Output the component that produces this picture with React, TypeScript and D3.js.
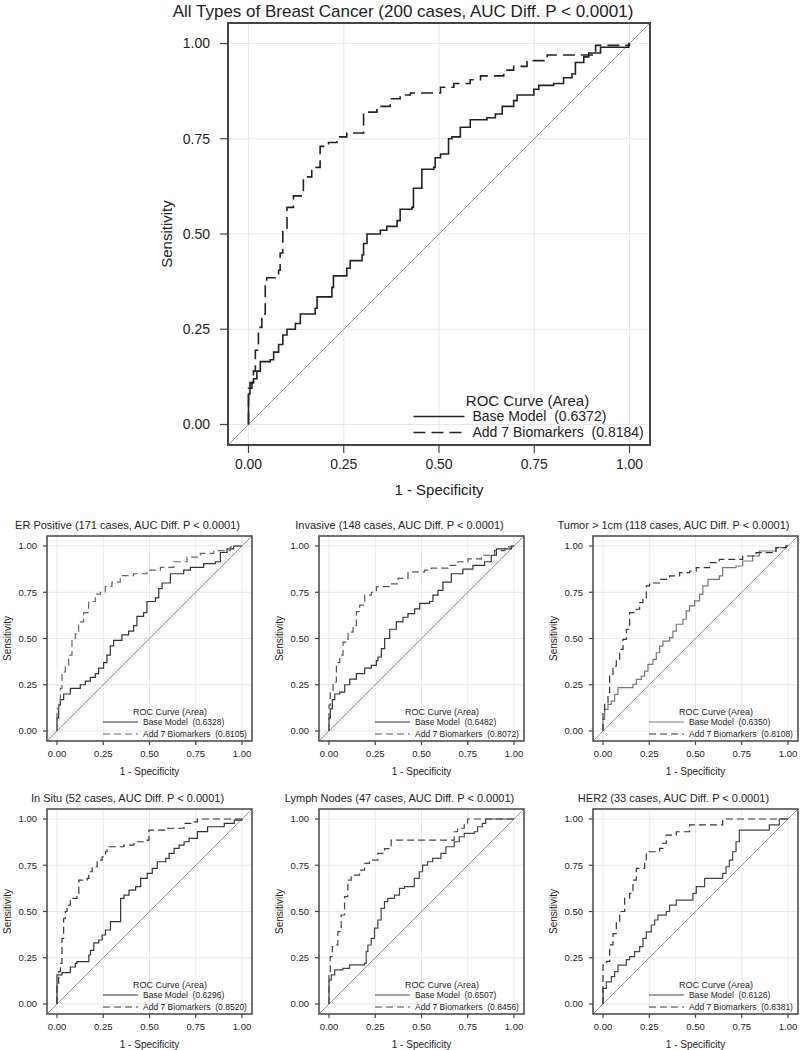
import React from 'react';
import * as d3 from 'd3';

type Pt = [number, number];

const tickValues = [0, 0.25, 0.5, 0.75, 1];
const tickLabels = ['0.00', '0.25', '0.50', '0.75', '1.00'];
const seriesNames = ['Base Model', 'Add 7 Biomarkers'];
const legendTitle = 'ROC Curve (Area)';
const xLabel = '1 - Specificity';
const yLabel = 'Sensitivity';

const mainTitle = 'All Types of Breast Cancer (200 cases, AUC Diff. P < 0.0001)';
const mainAuc = [0.6372, 0.8184];
const mainBase: Pt[] = [[0,0],[0,0.08],[0.004,0.11],[0.013,0.12],[0.022,0.14],[0.031,0.165],[0.057,0.17],[0.066,0.19],[0.079,0.21],[0.090,0.235],[0.101,0.25],[0.123,0.265],[0.136,0.29],[0.175,0.305],[0.180,0.335],[0.219,0.36],[0.223,0.39],[0.258,0.41],[0.267,0.43],[0.298,0.445],[0.302,0.475],[0.311,0.50],[0.346,0.51],[0.363,0.52],[0.390,0.535],[0.398,0.565],[0.429,0.57],[0.433,0.62],[0.455,0.67],[0.486,0.675],[0.490,0.70],[0.504,0.71],[0.525,0.75],[0.534,0.755],[0.556,0.78],[0.582,0.80],[0.626,0.805],[0.648,0.815],[0.666,0.835],[0.696,0.85],[0.705,0.865],[0.749,0.88],[0.762,0.89],[0.801,0.895],[0.827,0.91],[0.849,0.92],[0.858,0.95],[0.880,0.965],[0.893,0.975],[0.924,0.99],[0.998,1],[1,1]];
const mainAdd: Pt[] = [[0,0],[0,0.095],[0.009,0.11],[0.013,0.14],[0.018,0.195],[0.026,0.255],[0.035,0.29],[0.044,0.37],[0.048,0.385],[0.079,0.405],[0.083,0.45],[0.090,0.515],[0.101,0.57],[0.118,0.60],[0.144,0.65],[0.166,0.675],[0.188,0.73],[0.210,0.74],[0.232,0.755],[0.258,0.765],[0.302,0.82],[0.337,0.835],[0.372,0.855],[0.398,0.865],[0.425,0.87],[0.504,0.885],[0.539,0.895],[0.582,0.905],[0.609,0.915],[0.670,0.93],[0.696,0.94],[0.731,0.955],[0.784,0.97],[0.902,0.98],[0.911,0.995],[1,1]];

const panelTitles = [
  'ER Positive (171 cases, AUC Diff. P < 0.0001)',
  'Invasive (148 cases, AUC Diff. P < 0.0001)',
  'Tumor > 1cm (118 cases, AUC Diff. P < 0.0001)',
  'In Situ (52 cases, AUC Diff. P < 0.0001)',
  'Lymph Nodes (47 cases, AUC Diff. P < 0.0001)',
  'HER2 (33 cases, AUC Diff. P < 0.0001)',
];
const panelAucBase = [0.6328, 0.6482, 0.6350, 0.6296, 0.6507, 0.6126];
const panelAucAdd = [0.8105, 0.8072, 0.8108, 0.8520, 0.8456, 0.8381];

const erBase: Pt[] = [[0,0],[0,0.07],[0.009,0.14],[0.018,0.17],[0.036,0.20],[0.072,0.23],[0.126,0.25],[0.153,0.27],[0.180,0.29],[0.207,0.31],[0.225,0.34],[0.252,0.37],[0.270,0.41],[0.288,0.46],[0.306,0.49],[0.351,0.52],[0.387,0.54],[0.414,0.57],[0.432,0.62],[0.468,0.64],[0.486,0.70],[0.532,0.72],[0.550,0.77],[0.568,0.80],[0.613,0.85],[0.685,0.87],[0.721,0.885],[0.793,0.905],[0.856,0.915],[0.883,0.965],[0.919,0.985],[0.955,1],[1,1]];
const erAdd: Pt[] = [[0,0],[0,0.12],[0.009,0.16],[0.018,0.23],[0.027,0.32],[0.045,0.355],[0.063,0.41],[0.081,0.50],[0.099,0.525],[0.117,0.59],[0.144,0.64],[0.171,0.70],[0.207,0.74],[0.234,0.75],[0.261,0.78],[0.297,0.805],[0.342,0.84],[0.414,0.85],[0.486,0.87],[0.559,0.885],[0.631,0.915],[0.703,0.94],[0.775,0.96],[0.847,0.975],[0.937,0.995],[0.955,1],[1,1]];
const invBase: Pt[] = [[0,0],[0,0.07],[0.007,0.12],[0.018,0.17],[0.031,0.20],[0.058,0.21],[0.085,0.25],[0.112,0.28],[0.148,0.31],[0.193,0.34],[0.229,0.355],[0.256,0.38],[0.265,0.40],[0.283,0.445],[0.301,0.50],[0.328,0.55],[0.364,0.59],[0.400,0.615],[0.427,0.635],[0.463,0.66],[0.490,0.69],[0.544,0.70],[0.562,0.735],[0.589,0.76],[0.616,0.805],[0.661,0.85],[0.724,0.875],[0.778,0.895],[0.841,0.915],[0.877,0.95],[0.905,0.985],[0.986,1],[1,1]];
const invAdd: Pt[] = [[0,0],[0,0.14],[0.007,0.21],[0.022,0.265],[0.040,0.37],[0.058,0.41],[0.076,0.48],[0.103,0.535],[0.130,0.57],[0.148,0.645],[0.166,0.68],[0.193,0.735],[0.229,0.75],[0.256,0.78],[0.328,0.795],[0.373,0.825],[0.427,0.86],[0.517,0.87],[0.553,0.88],[0.643,0.895],[0.697,0.915],[0.751,0.93],[0.823,0.95],[0.895,0.975],[0.950,0.995],[0.986,1],[1,1]];
const tumBase: Pt[] = [[0,0],[0,0.063],[0.009,0.117],[0.027,0.144],[0.045,0.162],[0.063,0.198],[0.081,0.234],[0.162,0.252],[0.180,0.279],[0.207,0.297],[0.225,0.324],[0.243,0.36],[0.270,0.387],[0.288,0.423],[0.306,0.459],[0.324,0.486],[0.360,0.505],[0.378,0.54],[0.396,0.577],[0.432,0.604],[0.450,0.649],[0.468,0.676],[0.495,0.703],[0.522,0.739],[0.540,0.784],[0.567,0.82],[0.629,0.838],[0.647,0.883],[0.719,0.892],[0.755,0.919],[0.809,0.946],[0.845,0.973],[0.935,0.991],[0.989,1],[1,1]];
const tumAdd: Pt[] = [[0,0],[0,0.10],[0.009,0.153],[0.027,0.207],[0.036,0.297],[0.054,0.351],[0.072,0.387],[0.090,0.441],[0.108,0.495],[0.126,0.55],[0.144,0.64],[0.180,0.658],[0.198,0.694],[0.216,0.72],[0.234,0.784],[0.252,0.80],[0.306,0.82],[0.360,0.838],[0.414,0.856],[0.468,0.865],[0.504,0.883],[0.576,0.91],[0.629,0.928],[0.755,0.946],[0.827,0.964],[0.935,0.991],[0.989,1],[1,1]];
const situBase: Pt[] = [[0,0],[0,0.157],[0.027,0.17],[0.072,0.20],[0.099,0.22],[0.108,0.229],[0.172,0.265],[0.181,0.29],[0.199,0.33],[0.226,0.346],[0.244,0.373],[0.262,0.40],[0.289,0.445],[0.344,0.571],[0.362,0.589],[0.389,0.616],[0.425,0.634],[0.452,0.679],[0.488,0.706],[0.515,0.733],[0.542,0.769],[0.588,0.787],[0.606,0.814],[0.633,0.841],[0.660,0.859],[0.687,0.877],[0.714,0.895],[0.759,0.932],[0.814,0.958],[0.904,0.976],[0.958,0.994],[1,1]];
const situAdd: Pt[] = [[0,0],[0,0.10],[0.009,0.175],[0.018,0.22],[0.027,0.355],[0.036,0.463],[0.045,0.50],[0.054,0.535],[0.072,0.571],[0.108,0.598],[0.118,0.67],[0.163,0.679],[0.172,0.715],[0.190,0.742],[0.217,0.778],[0.244,0.796],[0.262,0.823],[0.271,0.85],[0.362,0.859],[0.416,0.877],[0.488,0.886],[0.497,0.94],[0.597,0.95],[0.687,0.976],[0.741,0.985],[0.759,1],[1,1]];
const lymphBase: Pt[] = [[0,0],[0,0.13],[0.013,0.157],[0.031,0.184],[0.075,0.193],[0.111,0.211],[0.192,0.22],[0.201,0.283],[0.210,0.319],[0.228,0.355],[0.246,0.41],[0.264,0.454],[0.282,0.517],[0.300,0.553],[0.318,0.571],[0.354,0.589],[0.381,0.625],[0.408,0.634],[0.461,0.679],[0.488,0.715],[0.506,0.751],[0.533,0.769],[0.560,0.787],[0.605,0.814],[0.632,0.85],[0.677,0.877],[0.704,0.904],[0.731,0.922],[0.785,0.931],[0.803,0.958],[0.829,0.976],[0.847,1],[1,1]];
const lymphAdd: Pt[] = [[0,0],[0,0.157],[0.007,0.256],[0.018,0.31],[0.039,0.319],[0.048,0.391],[0.066,0.481],[0.084,0.58],[0.102,0.67],[0.120,0.697],[0.165,0.724],[0.192,0.76],[0.219,0.778],[0.264,0.814],[0.300,0.84],[0.336,0.886],[0.677,0.931],[0.695,0.95],[0.731,0.968],[0.749,1],[1,1]];
const her2Base: Pt[] = [[0,0],[0,0.085],[0.018,0.12],[0.045,0.148],[0.063,0.175],[0.081,0.21],[0.126,0.24],[0.144,0.256],[0.171,0.283],[0.198,0.31],[0.216,0.355],[0.234,0.39],[0.261,0.427],[0.279,0.454],[0.297,0.48],[0.342,0.50],[0.360,0.535],[0.396,0.562],[0.486,0.598],[0.504,0.634],[0.549,0.679],[0.647,0.706],[0.665,0.742],[0.683,0.778],[0.701,0.823],[0.719,0.877],[0.737,0.94],[0.899,0.968],[0.953,1],[1,1]];
const her2Add: Pt[] = [[0,0],[0,0.21],[0.018,0.23],[0.036,0.32],[0.054,0.38],[0.072,0.445],[0.090,0.50],[0.117,0.571],[0.144,0.598],[0.162,0.67],[0.180,0.733],[0.225,0.77],[0.234,0.823],[0.306,0.841],[0.324,0.869],[0.342,0.913],[0.396,0.931],[0.468,0.968],[0.647,1],[1,1]];

const panelBase = [erBase, invBase, tumBase, situBase, lymphBase, her2Base];
const panelAdd = [erAdd, invAdd, tumAdd, situAdd, lymphAdd, her2Add];

// ---------- layout (styles, positions) ----------
const FONT = '"Liberation Sans", Arial, Helvetica, sans-serif';
const TXT = '#222';

interface Layout {
  left: number; top: number; size: number; pad: number;
  titleDx: number; titleDy: number; titleSize: number;
  tickSize: number; tickLen: number; yTickGap: number; xTickDy: number;
  axisSize: number; xLabelDy: number; yLabelDx: number;
  legHeadSize: number; legSize: number; legHeadDx: number; legHeadDy: number;
  legRow1Dy: number; legRow2Dy: number; legLineX0: number; legLineX1: number; legTextDx: number;
  curveW: number; dash: string; frameW: number; baseColor: string; addColor: string;
}

const mainLayout: Layout = {
  left: 248.5, top: 43.5, size: 381, pad: 20.5,
  titleDx: -36, titleDy: -6, titleSize: 17,
  tickSize: 14, tickLen: 8, yTickGap: 10, xTickDy: 24,
  axisSize: 15, xLabelDy: 50, yLabelDx: -61,
  legHeadSize: 15, legSize: 14, legHeadDx: 279, legHeadDy: -24,
  legRow1Dy: -8, legRow2Dy: 8, legLineX0: 165, legLineX1: 216, legTextDx: 224,
  curveW: 1.6, dash: '12,6', frameW: 2, baseColor: '#222', addColor: '#222',
};

const smallBase = {
  size: 185, pad: 10,
  titleDx: -22, titleDy: -7, titleSize: 11,
  tickSize: 9.5, tickLen: 4, yTickGap: 6, xTickDy: 16,
  axisSize: 10, xLabelDy: 34, yLabelDx: -40,
  legHeadSize: 9, legSize: 8.5, legHeadDx: 113, legHeadDy: -19,
  legRow1Dy: -9, legRow2Dy: 3, legLineX0: 46, legLineX1: 81, legTextDx: 86,
  curveW: 1.2, dash: '7,4', frameW: 1.5,
};
const panelLefts = [57, 329, 603, 57, 329, 603];
const panelTops = [546, 546, 546, 819, 819, 819];
const panelColors = [['#333', '#666'], ['#333', '#555'], ['#777', '#333'], ['#333', '#333'], ['#444', '#444'], ['#444', '#333']];

function Panel({ L, title, base, add, auc }: { L: Layout; title: string; base: Pt[]; add: Pt[]; auc: number[] }) {
  const x = d3.scaleLinear().domain([0, 1]).range([L.left, L.left + L.size]);
  const y = d3.scaleLinear().domain([0, 1]).range([L.top + L.size, L.top]);
  const line = d3.line<Pt>().x(d => x(d[0])).y(d => y(d[1])).curve(d3.curveStepAfter);
  const fl = L.left - L.pad, fr = L.left + L.size + L.pad;
  const ft = L.top - L.pad, fb = L.top + L.size + L.pad;
  const fc = (fl + fr) / 2;
  const y0 = y(0), x0 = x(0);
  return (
    <g fontFamily={FONT} fill={TXT}>
      <text x={fc + L.titleDx} y={ft + L.titleDy} textAnchor="middle" fontSize={L.titleSize}>{title}</text>
      {tickValues.map((t, i) => (
        <g key={'g' + i}>
          <line x1={x(t)} x2={x(t)} y1={ft} y2={fb} stroke="#e8e8e8" strokeWidth={1} />
          <line x1={fl} x2={fr} y1={y(t)} y2={y(t)} stroke="#e8e8e8" strokeWidth={1} />
        </g>
      ))}
      <line x1={x(0)} y1={y(0)} x2={x(1)} y2={y(1)} stroke="#999" strokeWidth={1} />
      <line x1={fl} y1={fb} x2={x(0)} y2={y(0)} stroke="#999" strokeWidth={1} />
      <line x1={x(1)} y1={y(1)} x2={fr} y2={ft} stroke="#999" strokeWidth={1} />
      <path d={line(base) || ''} fill="none" stroke={L.baseColor} strokeWidth={L.curveW} />
      <path d={line(add) || ''} fill="none" stroke={L.addColor} strokeWidth={L.curveW} strokeDasharray={L.dash} />
      <rect x={fl} y={ft} width={fr - fl} height={fb - ft} fill="none" stroke="#444" strokeWidth={L.frameW} />
      {tickValues.map((t, i) => (
        <g key={'t' + i}>
          <line x1={fl - L.tickLen} x2={fl} y1={y(t)} y2={y(t)} stroke="#444" strokeWidth={1.2} />
          <text x={fl - L.tickLen - L.yTickGap + L.tickLen} dx={-L.tickLen} y={y(t)} dy="0.35em" textAnchor="end" fontSize={L.tickSize}>{tickLabels[i]}</text>
          <line x1={x(t)} x2={x(t)} y1={fb} y2={fb + L.tickLen} stroke="#444" strokeWidth={1.2} />
          <text x={x(t)} y={fb + L.xTickDy} textAnchor="middle" fontSize={L.tickSize}>{tickLabels[i]}</text>
        </g>
      ))}
      <text x={(x(0) + x(1)) / 2} y={fb + L.xLabelDy} textAnchor="middle" fontSize={L.axisSize}>{xLabel}</text>
      <text transform={`translate(${fl + L.yLabelDx},${(y(0) + y(1)) / 2}) rotate(-90)`} textAnchor="middle" dy="0.35em" fontSize={L.axisSize}>{yLabel}</text>
      <text x={x0 + L.legHeadDx} y={y0 + L.legHeadDy} dy="0.35em" textAnchor="middle" fontSize={L.legHeadSize}>{legendTitle}</text>
      <line x1={x0 + L.legLineX0} x2={x0 + L.legLineX1} y1={y0 + L.legRow1Dy} y2={y0 + L.legRow1Dy} stroke={L.baseColor} strokeWidth={L.curveW} />
      <text x={x0 + L.legTextDx} y={y0 + L.legRow1Dy} dy="0.35em" fontSize={L.legSize} style={{ whiteSpace: 'pre' }}>{`${seriesNames[0]}  (${auc[0].toFixed(4)})`}</text>
      <line x1={x0 + L.legLineX0} x2={x0 + L.legLineX1} y1={y0 + L.legRow2Dy} y2={y0 + L.legRow2Dy} stroke={L.addColor} strokeWidth={L.curveW} strokeDasharray={L.dash} />
      <text x={x0 + L.legTextDx} y={y0 + L.legRow2Dy} dy="0.35em" fontSize={L.legSize} style={{ whiteSpace: 'pre' }}>{`${seriesNames[1]}  (${auc[1].toFixed(4)})`}</text>
    </g>
  );
}

export default function App() {
  return (
    <svg width={800} height={1050} style={{ position: 'absolute', left: 0, top: 0, background: '#fff' }}>
      <rect x={0} y={0} width={800} height={1050} fill="#fff" />
      <Panel L={mainLayout} title={mainTitle} base={mainBase} add={mainAdd} auc={mainAuc} />
      {panelTitles.map((t, i) => (
        <Panel
          key={i}
          L={{ ...smallBase, left: panelLefts[i], top: panelTops[i], baseColor: panelColors[i][0], addColor: panelColors[i][1] }}
          title={t}
          base={panelBase[i]}
          add={panelAdd[i]}
          auc={[panelAucBase[i], panelAucAdd[i]]}
        />
      ))}
    </svg>
  );
}
